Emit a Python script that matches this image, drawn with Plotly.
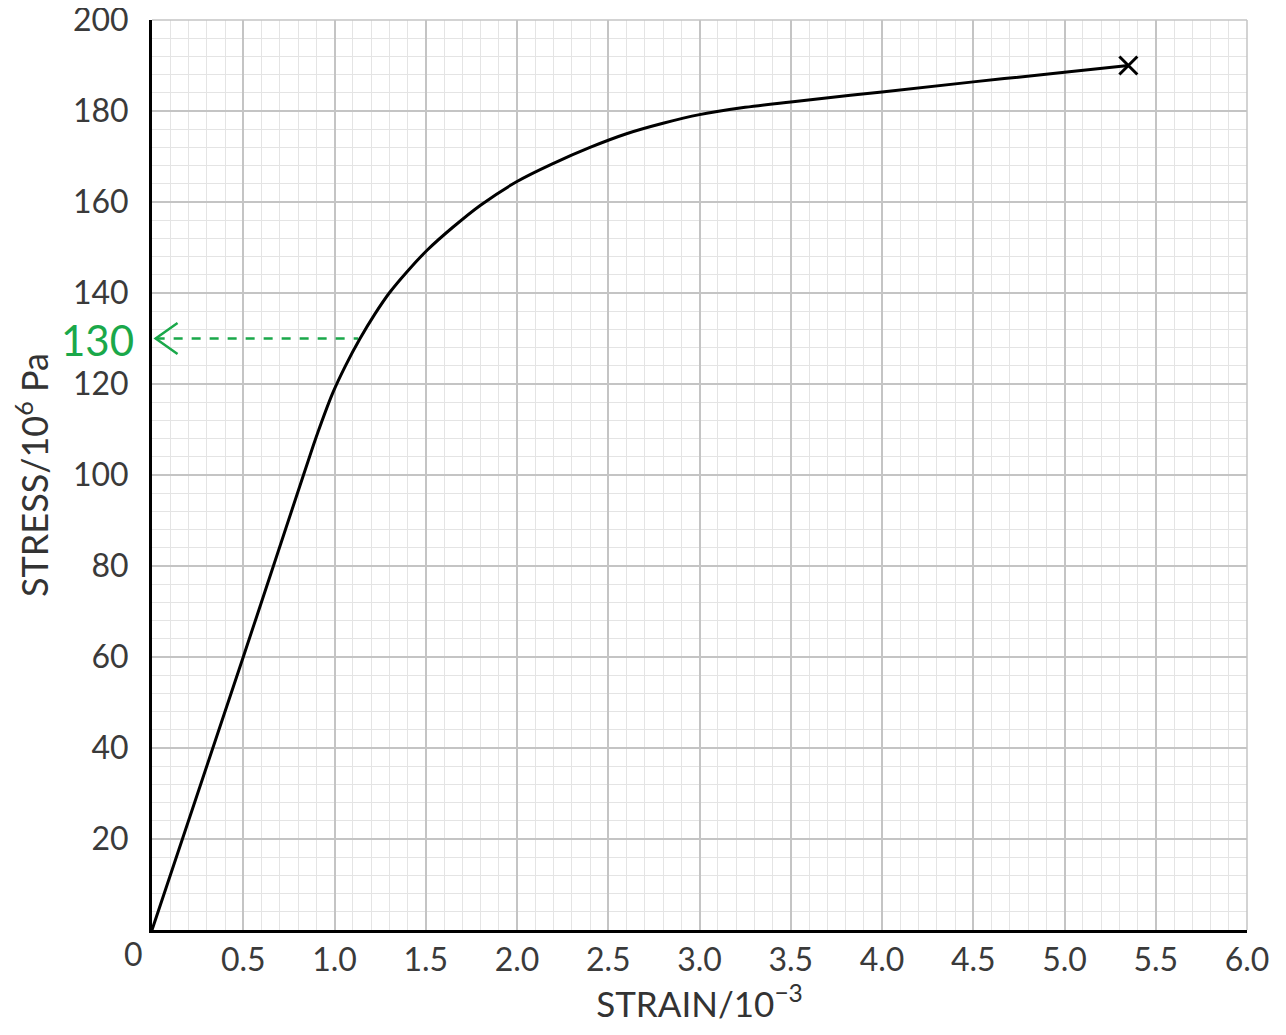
import plotly.graph_objects as go

# Curve (strain in 10^-3, stress in 10^6 Pa)
strain = [0, 0.5, 0.83, 0.91, 0.99, 1.06, 1.14, 1.22, 1.3, 1.4, 1.51, 1.65, 1.8, 2.0, 2.2, 2.4, 2.6, 2.8,
          3.0, 3.25, 3.5, 4.0, 4.5, 5.0, 5.35]
stress = [0, 60, 100, 109.5, 118, 124, 130, 135.3, 140, 144.8, 149.5, 154.5, 159.3, 164.5, 168.5, 172,
          175, 177.3, 179.2, 180.8, 182, 184.2, 186.4, 188.5, 190]

fracture_strain = [5.35]
fracture_stress = [190]

x_ticks = [0.5, 1.0, 1.5, 2.0, 2.5, 3.0, 3.5, 4.0, 4.5, 5.0, 5.5, 6.0]
x_ticktext = ["0.5", "1.0", "1.5", "2.0", "2.5", "3.0", "3.5", "4.0", "4.5", "5.0", "5.5", "6.0"]
y_ticks = [20, 40, 60, 80, 100, 120, 140, 160, 180, 200]

read_stress = 130
read_strain = 1.13

green = "#1aa84a"
font_family = "Lato, 'Open Sans', sans-serif"

fig = go.Figure()

# dashed reading line
fig.add_trace(go.Scatter(x=[0.02, read_strain], y=[read_stress, read_stress], mode="lines",
                         line=dict(color=green, width=2.5, dash="dash"), hoverinfo="skip"))
# open arrow head
fig.add_trace(go.Scatter(x=[0.14, 0.02, 0.14], y=[read_stress + 3.4, read_stress, read_stress - 3.4],
                         mode="lines", line=dict(color=green, width=2.5), hoverinfo="skip"))

fig.add_trace(go.Scatter(x=strain, y=stress, mode="lines",
                         line=dict(color="black", width=3, shape="spline", smoothing=1.0)))
fig.add_trace(go.Scatter(x=fracture_strain, y=fracture_stress, mode="markers",
                         marker=dict(symbol="x-thin", size=18, line=dict(color="black", width=3))))

# page body adds an 8px offset; size and margins compensate for it
fig.update_layout(
    width=1270, height=1019,
    margin=dict(l=144, r=31, t=12, b=97),
    paper_bgcolor="white", plot_bgcolor="white",
    showlegend=False,
    font=dict(family=font_family, color="#333333"),
)

fig.update_xaxes(
    range=[0, 6], tickvals=x_ticks, ticktext=x_ticktext, automargin=False,
    ticklabeloverflow="allow",
    tickfont=dict(size=32, color="#3a3a3a"), ticks="", ticklabelstandoff=0,
    showgrid=True, gridcolor="#c4c4c4", gridwidth=1.5,
    minor=dict(dtick=0.1, showgrid=True, gridcolor="#e4e4e4", gridwidth=1),
    showline=True, linecolor="black", linewidth=3, mirror=False,
    zeroline=False,
    title=dict(text="STRAIN/10<sup>−3</sup>", font=dict(size=35, color="#333333"), standoff=10),
)
fig.update_yaxes(
    range=[0, 200], tickvals=y_ticks, automargin=False,
    ticklabeloverflow="allow",
    tickfont=dict(size=32, color="#3a3a3a"), ticks="", ticklabelstandoff=14,
    showgrid=True, gridcolor="#c4c4c4", gridwidth=1.5,
    minor=dict(dtick=4, showgrid=True, gridcolor="#e4e4e4", gridwidth=1),
    showline=True, linecolor="black", linewidth=3,
    zeroline=False,
    title=dict(text="STRESS/10<sup>6</sup> Pa", font=dict(size=36, color="#333333"), standoff=14),
)

# right and top light border
fig.add_shape(type="line", xref="paper", yref="paper", x0=1, x1=1, y0=0, y1=1,
              line=dict(color="#c4c4c4", width=1.5))
fig.add_shape(type="line", xref="paper", yref="paper", x0=0, x1=1, y0=1, y1=1,
              line=dict(color="#c4c4c4", width=1.5))

# origin label
fig.add_annotation(x=0, y=0, xref="x", yref="y", text="0", showarrow=False,
                   xanchor="right", yanchor="top", xshift=-7, yshift=-2,
                   font=dict(size=32, color="#3a3a3a"))
# handwritten reading
fig.add_annotation(xref="paper", yref="y", x=-0.05, y=129.6, text="130", showarrow=False,
                   xanchor="center", yanchor="middle",
                   font=dict(size=42, color=green, family=font_family))

fig.write_html("out.html")
